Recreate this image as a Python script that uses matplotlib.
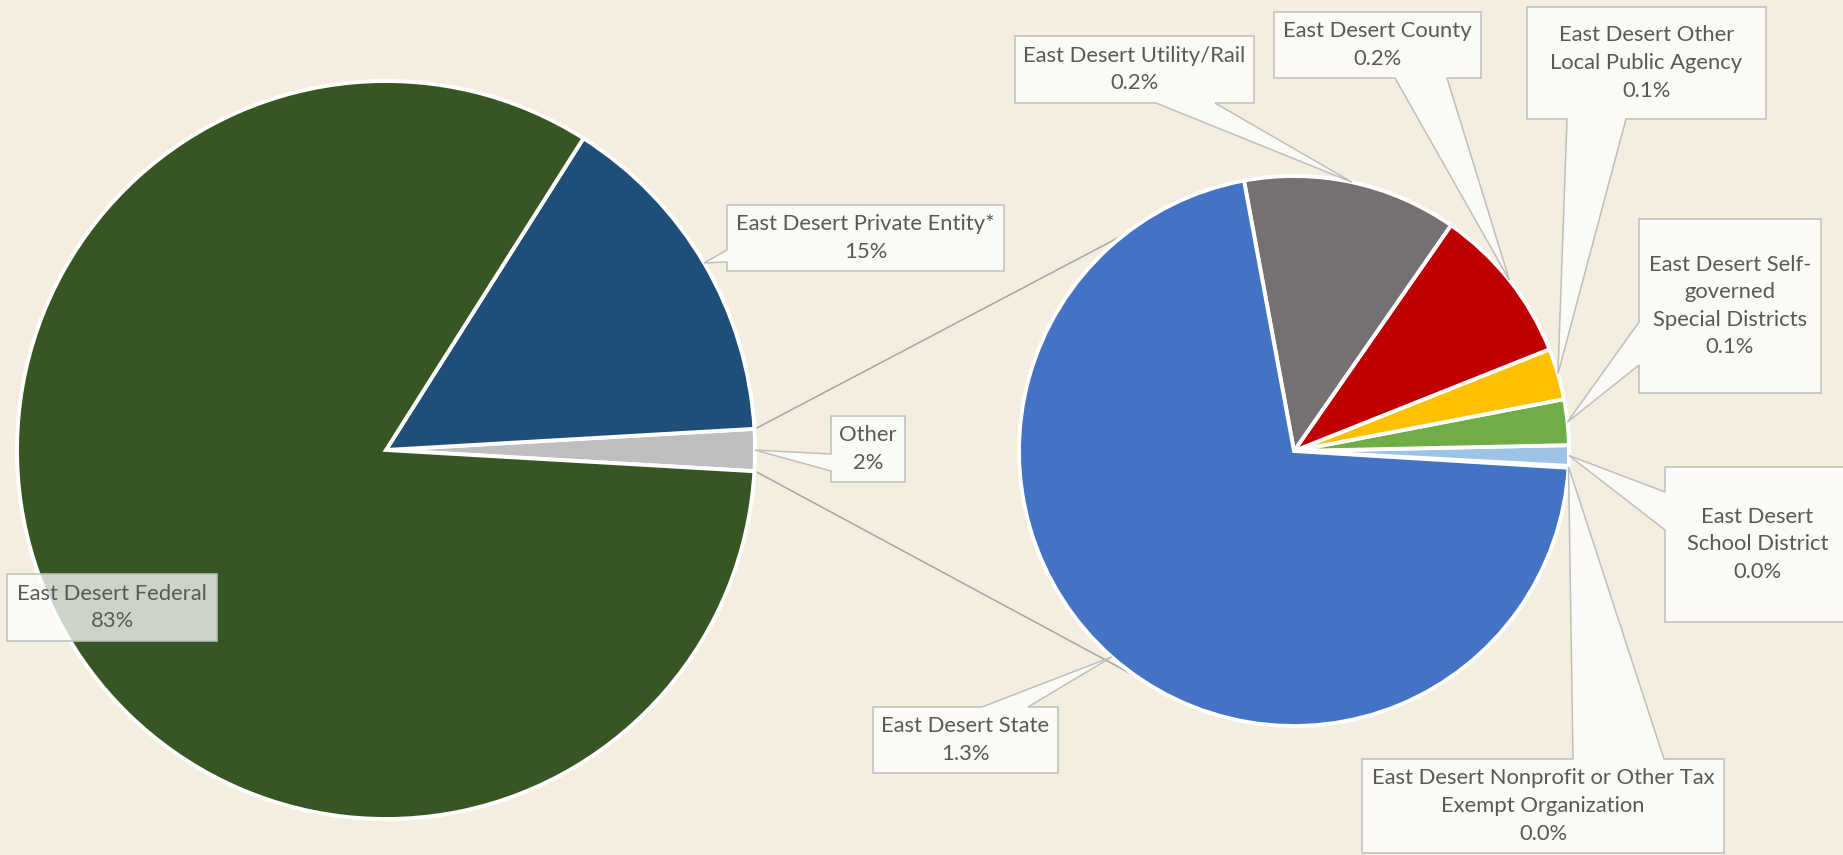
import numpy as np
import matplotlib.pyplot as plt
from matplotlib.patches import Polygon

W, H = 1843, 855

# Main pie (counter-clockwise from the "Other" slice)
main_names = ['Other', 'East Desert Private Entity*', 'East Desert Federal']
main_values = [1.83, 15.1, 83.07]
main_pct = ['2%', '15%', '83%']
main_colors = ['#BFBFBF', '#1F4E79', '#375623']

# Breakdown of "Other" (counter-clockwise)
other_names = ['East Desert Nonprofit or Other Tax\nExempt Organization',
               'East Desert\nSchool District',
               'East Desert Self-\ngoverned\nSpecial Districts',
               'East Desert Other\nLocal Public Agency',
               'East Desert County',
               'East Desert Utility/Rail',
               'East Desert State']
other_values = [0.002, 0.022, 0.049, 0.055, 0.17, 0.23, 1.30]
other_pct = ['0.0%', '0.0%', '0.1%', '0.1%', '0.2%', '0.2%', '1.3%']
other_colors = ['#264478', '#9DC3E6', '#70AD47', '#FFC000', '#C00000', '#767171', '#4472C4']

# callout boxes in pixel coords (y down): x0, y0, x1, y1, pointer side, pointer base a, b
main_boxes = [(831, 416, 905, 482, 'left', 454, 471),
              (727, 205, 1004, 271, 'left', 250, 262),
              (7, 574, 217, 641, None, 0, 0)]
other_boxes = [(1362, 759, 1724, 853, 'top', 1573, 1664),
               (1665, 467, 1850, 622, 'left', 492, 530),
               (1639, 219, 1821, 393, 'left', 322, 365),
               (1527, 7, 1766, 119, 'bottom', 1567, 1626),
               (1274, 12, 1481, 78, 'bottom', 1395, 1447),
               (1015, 36, 1254, 103, 'bottom', 1156, 1215),
               (873, 707, 1058, 773, 'top', 982, 1028)]

bg = '#F3EEE0'
txt_color = '#595959'
plt.rcParams['font.family'] = ['Lato', 'DejaVu Sans']

fig = plt.figure(figsize=(W / 100, H / 100), dpi=100, facecolor=bg)
ax = fig.add_axes([0, 0, 1, 1])

c1, r1 = (386, H - 450), 369
c2, r2 = (1294, H - 451), 275

w1, _ = ax.pie(main_values, colors=main_colors, startangle=-3.3, center=c1, radius=r1,
               wedgeprops=dict(edgecolor='white', linewidth=2.8))
w2, _ = ax.pie(other_values, colors=other_colors, startangle=-3.5, center=c2, radius=r2,
               wedgeprops=dict(edgecolor='white', linewidth=2.8))

ax.set_xlim(0, W)
ax.set_ylim(0, H)
ax.set_aspect('auto')
ax.axis('off')


def edge_point(c, r, ang):
    a = np.deg2rad(ang)
    return c[0] + r * np.cos(a), c[1] + r * np.sin(a)


# connector lines between the "Other" slice and the second pie
o = w1[0]
for ang1, ang2 in [(o.theta2, 128), (o.theta1, -124.5)]:
    p1 = edge_point(c1, r1 + 1, ang1)
    p2 = edge_point(c2, r2, ang2)
    ax.plot([p1[0], p2[0]], [p1[1], p2[1]], color='#A6A6A6', lw=1.1, zorder=0.5)


def callout(box, tip, text):
    x0, y0, x1, y1, side, a, b = box
    tx, ty = tip[0], H - tip[1]
    pts = [(x0, y0)]
    if side == 'top':
        pts += [(a, y0), (tx, ty), (b, y0)]
    pts += [(x1, y0), (x1, y1)]
    if side == 'bottom':
        pts += [(b, y1), (tx, ty), (a, y1)]
    pts += [(x0, y1)]
    if side == 'left':
        pts += [(x0, b), (tx, ty), (x0, a)]
    pts = [(px, H - py) for px, py in pts]
    ax.add_patch(Polygon(pts, closed=True, facecolor=(1, 1, 1, 0.75),
                         edgecolor='#BFBFBF', lw=1.1, zorder=5))
    ax.text((x0 + x1) / 2, H - (y0 + y1) / 2, text, ha='center', va='center',
            multialignment='center', fontsize=15.8, color=txt_color,
            linespacing=1.47, zorder=6)


for wedge, box, name, pct in zip(w1, main_boxes, main_names, main_pct):
    mid = (wedge.theta1 + wedge.theta2) / 2
    callout(box, edge_point(c1, r1, mid), name + '\n' + pct)

for wedge, box, name, pct in zip(w2, other_boxes, other_names, other_pct):
    mid = (wedge.theta1 + wedge.theta2) / 2
    callout(box, edge_point(c2, r2, mid), name + '\n' + pct)

fig.savefig('out.png', dpi=100, facecolor=bg)
